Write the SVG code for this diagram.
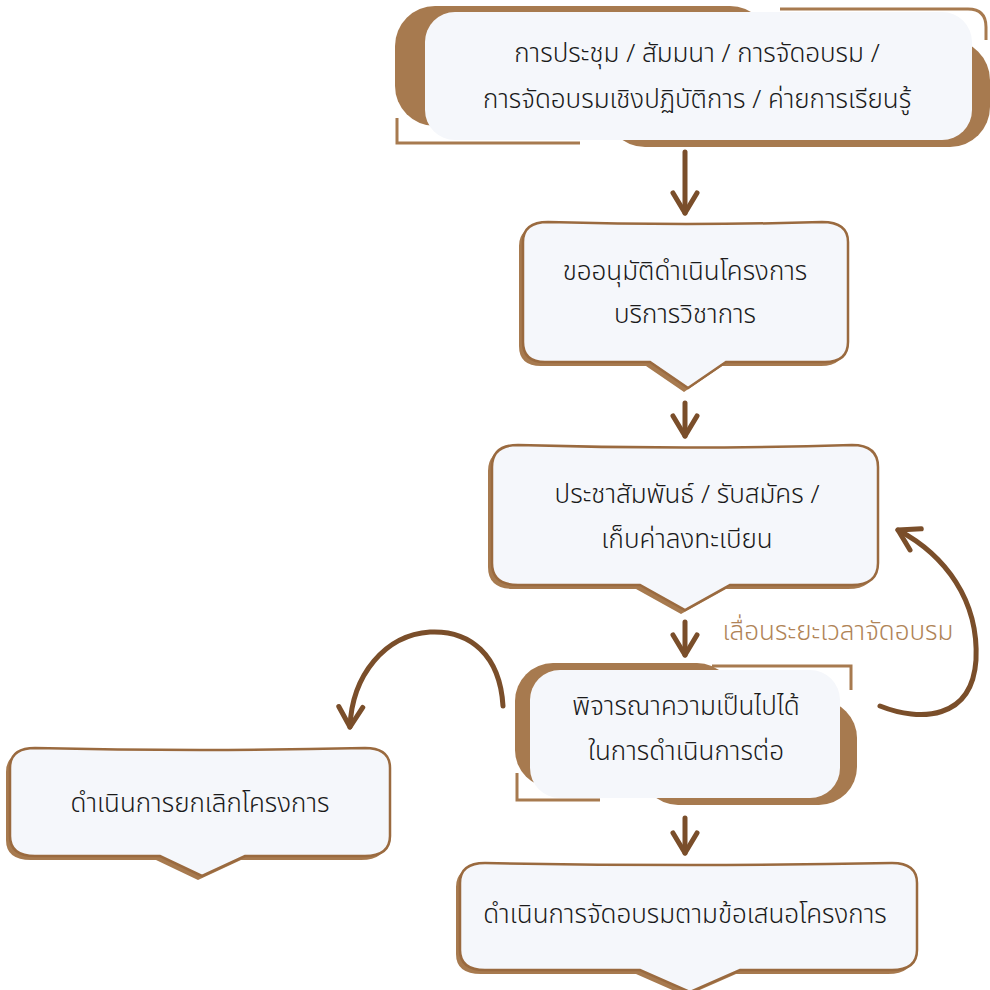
<svg xmlns="http://www.w3.org/2000/svg" width="990" height="990" viewBox="0 0 990 990">
<defs>
<style>
.box{fill:#f5f7fb;stroke:#9a6a3f;stroke-width:2.5}
.shadow{fill:#a77a4f}
.frame{fill:#a77a4f}
.thin{fill:none;stroke:#a77a4f;stroke-width:3}
.white{fill:#f5f7fb}
.t{font-family:"Noto Sans Thai","Noto Sans Thai UI","Loma","Garuda","DejaVu Sans","Noto Sans",sans-serif;font-size:26px;font-weight:300;fill:#1a1a1a;text-anchor:middle}
.lbl{font-family:"Noto Sans Thai","Noto Sans Thai UI","Loma","Garuda","DejaVu Sans","Noto Sans",sans-serif;font-size:26px;font-weight:300;fill:#b08457;text-anchor:middle}
.arr{fill:none;stroke:#7a4e2a;stroke-width:5;stroke-linecap:round}
</style>
<marker id="ah" viewBox="0 0 30 30" refX="26" refY="15" markerWidth="30" markerHeight="30" markerUnits="userSpaceOnUse" orient="auto" overflow="visible">
<path d="M6,3 L26,15 L6,27" fill="none" stroke="#7a4e2a" stroke-width="5" stroke-linecap="round" stroke-linejoin="round"/>
</marker>
</defs>
<rect width="990" height="990" fill="#ffffff"/>

<g id="n1">
<rect class="frame" x="395" y="6" width="375" height="120" rx="40"/>
<rect class="frame" x="605" y="40" width="385" height="107" rx="40"/>
<path class="thin" d="M780,9 L968,9 Q986,9 986,27 L986,40"/>
<path class="thin" d="M397,118 L397,143 L580,143"/>
<rect class="white" x="425" y="12" width="547" height="128" rx="30"/>
<text class="t" x="697" y="62">การประชุม / สัมมนา / การจัดอบรม /</text>
<text class="t" x="697" y="108">การจัดอบรมเชิงปฏิบัติการ / ค่ายการเรียนรู้</text>
</g>

<g id="n2">
<path class="shadow" transform="translate(-4,4)" d="M523,242 Q523,222 548,222 Q688,226 822,222 Q848,222 848,242 L848,342 Q848,362 825,362 L726,362 L688,388 L650,362 L545,362 Q523,362 523,342 Z"/>
<path class="box" d="M523,242 Q523,222 548,222 Q688,226 822,222 Q848,222 848,242 L848,342 Q848,362 825,362 L726,362 L688,388 L650,362 L545,362 Q523,362 523,342 Z"/>
<text class="t" x="685" y="280">ขออนุมัติดำเนินโครงการ</text>
<text class="t" x="685" y="323">บริการวิชาการ</text>
</g>

<g id="n3">
<path class="shadow" transform="translate(-4,4)" d="M492,467 Q492,445 518,445 Q685,450 852,445 Q878,445 878,467 L878,563 Q878,585 852,585 L730,585 L685,610 L640,585 L518,585 Q492,585 492,563 Z"/>
<path class="box" d="M492,467 Q492,445 518,445 Q685,450 852,445 Q878,445 878,467 L878,563 Q878,585 852,585 L730,585 L685,610 L640,585 L518,585 Q492,585 492,563 Z"/>
<text class="t" x="687" y="503">ประชาสัมพันธ์ / รับสมัคร /</text>
<text class="t" x="687" y="548">เก็บค่าลงทะเบียน</text>
</g>

<g id="n4">
<rect class="frame" x="515" y="663" width="220" height="125" rx="38"/>
<rect class="frame" x="640" y="700" width="217" height="105" rx="38"/>
<path class="thin" d="M712,666 L851,666 L851,690"/>
<path class="thin" d="M517,773 L517,800 L600,800"/>
<rect class="white" x="530" y="670" width="310" height="128" rx="30"/>
<text class="t" x="686" y="715">พิจารณาความเป็นไปได้</text>
<text class="t" x="686" y="760">ในการดำเนินการต่อ</text>
</g>

<g id="n5">
<path class="shadow" transform="translate(-4,4)" d="M10,768 Q10,748 35,748 Q200,752 365,748 Q390,748 390,768 L390,836 Q390,856 365,856 L245,856 L202,876 L160,856 L35,856 Q10,856 10,836 Z"/>
<path class="box" d="M10,768 Q10,748 35,748 Q200,752 365,748 Q390,748 390,768 L390,836 Q390,856 365,856 L245,856 L202,876 L160,856 L35,856 Q10,856 10,836 Z"/>
<text class="t" x="200" y="812">ดำเนินการยกเลิกโครงการ</text>
</g>

<g id="n6">
<path class="shadow" transform="translate(-4,4)" d="M460,883 Q460,863 485,863 Q688,867 892,863 Q917,863 917,883 L917,950 Q917,970 892,970 L740,970 L690,992 L640,970 L485,970 Q460,970 460,950 Z"/>
<path class="box" d="M460,883 Q460,863 485,863 Q688,867 892,863 Q917,863 917,883 L917,950 Q917,970 892,970 L740,970 L690,992 L640,970 L485,970 Q460,970 460,950 Z"/>
<text class="t" x="685" y="923">ดำเนินการจัดอบรมตามข้อเสนอโครงการ</text>
</g>

<g id="connectors">
<path class="arr" marker-end="url(#ah)" d="M685,152 L685,213"/>
<path class="arr" marker-end="url(#ah)" d="M685,403 L685,436"/>
<path class="arr" marker-end="url(#ah)" d="M685,622 L685,655"/>
<path class="arr" marker-end="url(#ah)" d="M685,818 L685,853"/>
<path class="arr" marker-end="url(#ah)" d="M503,706 C500,655 470,630 430,632 C385,635 352,675 350,727"/>
<path class="arr" marker-end="url(#ah)" d="M880,706 C920,722 972,720 976,660 C979,600 945,555 898,530"/>
<text class="lbl" x="838" y="640">เลื่อนระยะเวลาจัดอบรม</text>
</g>
</svg>
